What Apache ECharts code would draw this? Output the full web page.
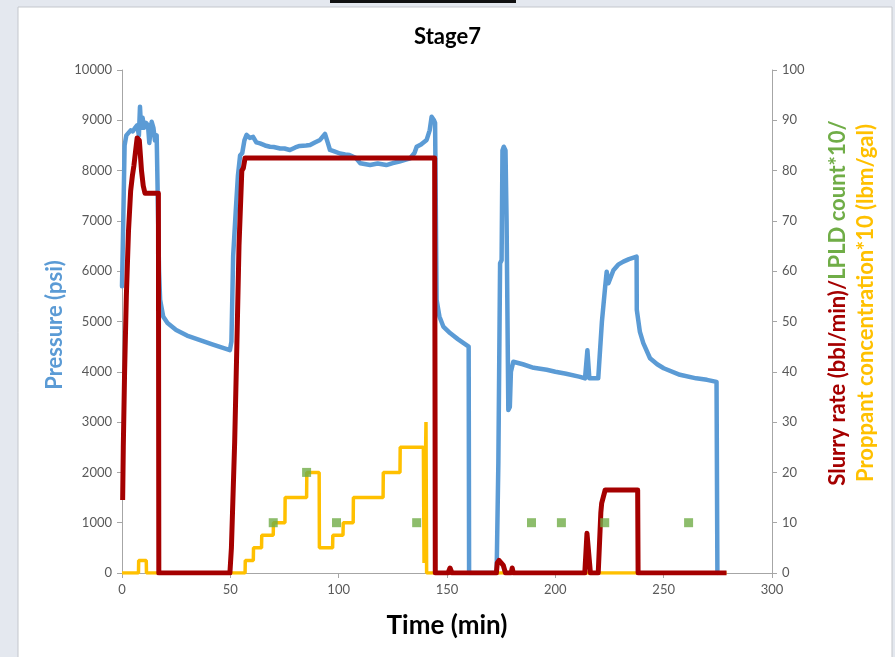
<!DOCTYPE html>
<html><head><meta charset="utf-8">
<script src="https://cdn.jsdelivr.net/npm/echarts@6/dist/echarts.min.js"></script>
<style>html,body{margin:0;padding:0;background:#e4e8ef}#c{width:895px;height:657px}</style>
</head><body><div id="c"></div>
<script>
// ---- data (time in minutes) ----
const xTicks = [0, 50, 100, 150, 200, 250, 300];
const pressure = [ // [min, psi]
 [0,5700],[0.5,6800],[1.2,8500],[2,8700],[3,8750],[4,8800],[5,8780],[6,8850],[7,8900],[7.8,8700],[8.3,9270],[8.8,8850],[9.5,9050],[10.2,8850],[11,8950],[12,8900],[12.6,8550],[13.2,8800],[13.7,8970],[14.5,8850],[15.2,8600],[16,8700],[16.8,8670],[17.1,6000],[17.6,5430],[19,5100],[21,4970],[25,4830],[30,4720],[36,4630],[42,4540],[49.8,4430],
 [50.5,4600],[51.3,6300],[52.5,7200],[53.5,7900],[54.5,8300],[55.5,8350],[56.5,8600],[57.5,8710],[59,8650],[60.5,8670],[62,8560],[63.7,8540],[66,8500],[68.3,8475],[70,8470],[73,8440],[75,8440],[77.5,8410],[80,8460],[82,8490],[85,8500],[86.8,8510],[89,8560],[91.4,8610],[93.7,8730],[95,8550],[96,8410],[98,8380],[100.6,8340],[103,8320],[105,8310],[108,8250],[110,8145],[114.5,8110],[118,8140],[122,8110],[125,8150],[128,8180],[131,8220],[133,8245],[135,8350],[136,8475],[138,8520],[140.6,8610],[142,8800],[142.9,9070],[144,9000],[144.5,8950],
 [145.2,5430],[146.5,5100],[148.3,4900],[151.4,4770],[155,4650],[160,4500],[160.2,0],[172.9,0],[173.7,2180],[174.5,6160],[175.2,6220],[175.6,8400],[176.2,8475],[177,8400],[177.5,7000],[178.3,3240],[179,3300],[179.5,4000],[180.6,4200],[185,4150],[190,4080],[196,4040],[200,4000],[205,3960],[211.4,3900],[213.7,3870],[214.8,4430],[215.7,3870],[219.8,3870],[221.5,5000],[223,5690],[223.7,5990],[224.5,5760],[226.8,6020],[229,6130],[231.4,6190],[234,6240],[237.5,6290],[237.6,5230],[239,4800],[240.6,4570],[243.7,4270],[247,4150],[250,4070],[257.5,3940],[265,3870],[270,3840],[274.4,3800],[274.8,0]
];
const slurryRate = [ // [min, bbl/min]
 [0.3,14.5],[0.6,25],[1.2,40],[2,55],[3,68],[4,76],[4.8,79],[5.5,81],[6.3,84],[7,86.5],[8,86],[8.5,83],[9,80],[9.8,77],[10.6,75.5],[16.8,75.5],[17,0],[49.8,0],[50.5,5],[51,12],[52,26],[53,45],[54,65],[55.3,80],[56,80.5],[56.8,82.5],[144.3,82.5],[144.6,0],[150.5,0],[151.4,1],[152.3,0],[172.8,0],[173.2,2],[174,2.5],[175,2],[176,1.5],[177,0],[179.6,0],[180.1,1],[180.6,0],[213.6,0],[214.6,7.9],[215.3,7.9],[216.2,0],[219.8,0],[221,12],[221.4,13.9],[223,16.5],[238,16.5],[238.2,0],[279,0]
];
const proppant = [ // [min, lbm/gal*10]
 [0,0],[7.6,0],[7.7,2.5],[11.2,2.5],[11.3,0],[56.8,0],[56.9,2.5],[60.6,2.5],[60.7,5],[64.4,5],[64.5,7.5],[69.8,7.5],[69.9,10],[75.2,10],[75.3,15],[85.2,15],[85.3,20],[91,20],[91.1,5],[97.2,5],[97.3,7.5],[102,7.5],[102.1,10],[106.7,10],[106.8,15],[120.5,15],[120.6,20],[128.3,20],[128.4,25],[139.1,25],[139.4,2],[140.3,30],[140.6,0],[279,0]
];
const lpld = [[69.8,10],[85.2,20],[99,10],[136,10],[189,10],[202.8,10],[222.8,10],[261.5,10]];

const FONT = 'Lato, "Open Sans", sans-serif';
const chart = echarts.init(document.getElementById('c'));
chart.setOption({
  animation: false,
  backgroundColor: '#e4e8ef',
  title: { text: 'Stage7', left: 'center', top: 21, textStyle: { fontFamily: FONT, fontWeight: 'bold', fontSize: 22, color: '#000' } },
  grid: { left: 122, right: 123, top: 70, bottom: 84 },
  graphic: [
    { type: 'rect', z: -10, silent: true, shape: { x: 18, y: 7, width: 874, height: 660 }, style: { fill: '#fff', stroke: '#c4c7cc', lineWidth: 1 } },
    { type: 'rect', z: -9, silent: true, shape: { x: 330, y: 0, width: 186, height: 3 }, style: { fill: '#111' } },
    { type: 'text', x: 447, y: 626, silent: true, style: { text: 'Time (min)', font: 'bold 26px ' + FONT, fill: '#000', align: 'center', verticalAlign: 'middle' } },
    { type: 'text', x: 55, y: 325, rotation: Math.PI / 2, silent: true, style: { text: 'Pressure (psi)', font: 'bold 22px ' + FONT, fill: '#5b9bd5', align: 'center', verticalAlign: 'middle' } },
    { type: 'text', x: 838, y: 303, rotation: Math.PI / 2, silent: true, style: { text: '{a|Slurry rate (bbl/min)/}{b|LPLD count*10/}', font: 'bold 22px ' + FONT, align: 'center', verticalAlign: 'middle',
      rich: { a: { fill: '#a50000', font: 'bold 22px ' + FONT }, b: { fill: '#70ad47', font: 'bold 22px ' + FONT } } } },
    { type: 'text', x: 866, y: 303, rotation: Math.PI / 2, silent: true, style: { text: 'Proppant concentration*10 (lbm/gal)', font: 'bold 22px ' + FONT, fill: '#ffc000', align: 'center', verticalAlign: 'middle' } }
  ],
  xAxis: {
    type: 'value', min: 0, max: 300, interval: 50,
    axisLine: { show: true, lineStyle: { color: '#a6a6a6' } },
    axisTick: { show: true, length: 5, lineStyle: { color: '#a6a6a6' } },
    axisLabel: { color: '#595959', fontSize: 13, fontFamily: FONT, margin: 10, formatter: v => xTicks.includes(v) ? String(v) : '' },
    splitLine: { show: false }
  },
  yAxis: [
    { type: 'value', min: 0, max: 10000, interval: 1000, position: 'left',
      axisLine: { show: true, lineStyle: { color: '#a6a6a6' } },
      axisTick: { show: true, length: 5, lineStyle: { color: '#a6a6a6' } },
      axisLabel: { color: '#595959', fontSize: 13, fontFamily: FONT, margin: 10, formatter: v => String(v) },
      splitLine: { show: false } },
    { type: 'value', min: 0, max: 100, interval: 10, position: 'right',
      axisLine: { show: true, lineStyle: { color: '#a6a6a6' } },
      axisTick: { show: true, length: 5, lineStyle: { color: '#a6a6a6' } },
      axisLabel: { color: '#595959', fontSize: 13, fontFamily: FONT, margin: 10, formatter: v => String(v) },
      splitLine: { show: false } }
  ],
  series: [
    { name: 'Pressure', type: 'line', yAxisIndex: 0, data: pressure, showSymbol: false, symbol: 'none', z: 2,
      lineStyle: { color: '#5b9bd5', width: 4.5, join: 'round', cap: 'round' } },
    { name: 'Proppant', type: 'line', yAxisIndex: 1, data: proppant, showSymbol: false, symbol: 'none', z: 3,
      lineStyle: { color: '#ffc000', width: 3.5 } },
    { name: 'Slurry rate', type: 'line', yAxisIndex: 1, data: slurryRate, showSymbol: false, symbol: 'none', z: 4,
      lineStyle: { color: '#a50000', width: 5, join: 'round' } },
    { name: 'LPLD', type: 'scatter', yAxisIndex: 1, data: lpld, symbol: 'rect', symbolSize: 9, z: 5,
      itemStyle: { color: '#70ad47' } }
  ]
});
</script></body></html>
